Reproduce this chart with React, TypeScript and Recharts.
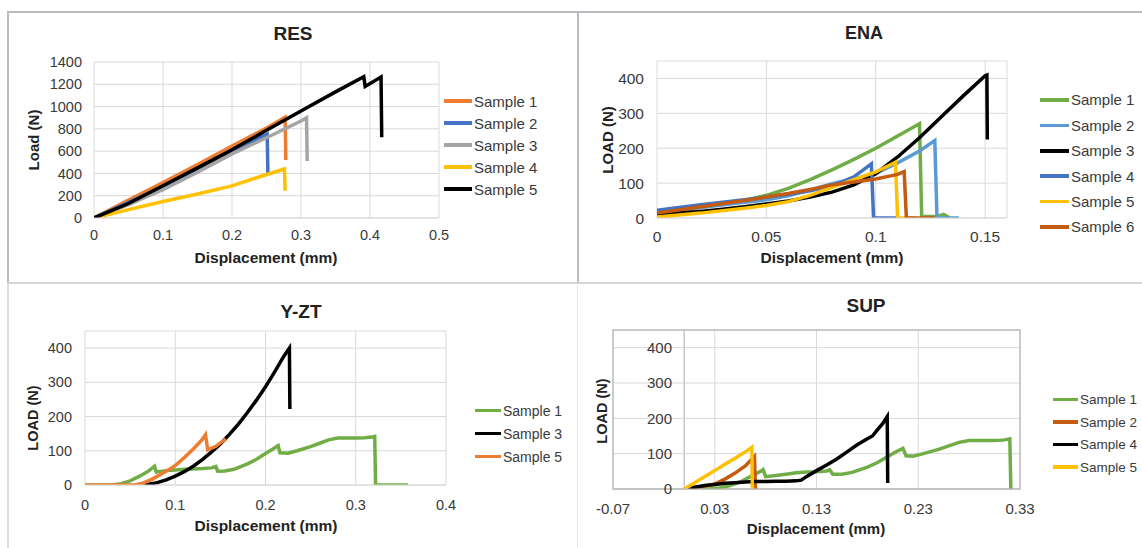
import { CartesianGrid, Legend, Line, LineChart, ReferenceArea, ReferenceLine, XAxis, YAxis } from 'recharts';

type Pt = { x: number; y: number };
type Series = { name: string; color: string; data: Pt[] };

const toPts = (rows: number[][]): Pt[] => rows.map(([x, y]) => ({ x, y }));

// ---- RES ----
const resXTicks = [0, 0.1, 0.2, 0.3, 0.4, 0.5];
const resYTicks = [0, 200, 400, 600, 800, 1000, 1200, 1400];
const resSample1 = [[0, 0], [0.05, 160], [0.1, 318], [0.15, 480], [0.2, 645], [0.25, 808], [0.277, 905], [0.278, 520]];
const resSample2 = [[0, 0], [0.05, 140], [0.1, 285], [0.15, 440], [0.2, 600], [0.251, 752], [0.252, 405]];
const resSample3 = [[0, 0], [0.05, 120], [0.1, 255], [0.15, 412], [0.2, 575], [0.25, 720], [0.3, 870], [0.308, 900], [0.309, 512]];
const resSample4 = [[0, 0], [0.05, 75], [0.1, 148], [0.15, 215], [0.2, 288], [0.24, 370], [0.276, 440], [0.277, 245]];
const resSample5 = [[0, 0], [0.05, 130], [0.1, 290], [0.15, 450], [0.2, 612], [0.25, 787], [0.3, 960], [0.35, 1132], [0.391, 1268], [0.393, 1180], [0.416, 1265], [0.417, 725]];

// ---- ENA ----
const enaXTicks = [0, 0.05, 0.1, 0.15];
const loadTicks = [0, 100, 200, 300, 400];
const enaSample1 = [[0, 12], [0.02, 30], [0.04, 50], [0.05, 65], [0.06, 85], [0.07, 110], [0.08, 138], [0.09, 168], [0.1, 200], [0.11, 235], [0.12, 270], [0.121, 4], [0.128, 4], [0.131, 10], [0.134, 0]];
const enaSample2 = [[0, 15], [0.02, 30], [0.04, 45], [0.05, 52], [0.06, 64], [0.07, 80], [0.08, 98], [0.09, 112], [0.1, 128], [0.11, 158], [0.12, 192], [0.127, 222], [0.128, 0], [0.138, 0]];
const enaSample3 = [[0, 10], [0.01, 14], [0.02, 19], [0.03, 25], [0.04, 32], [0.05, 40], [0.06, 49], [0.07, 60], [0.08, 74], [0.09, 95], [0.1, 127], [0.11, 175], [0.12, 230], [0.13, 290], [0.14, 350], [0.15, 408], [0.1508, 410], [0.151, 225]];
const enaSample4 = [[0, 22], [0.02, 38], [0.04, 52], [0.05, 60], [0.06, 68], [0.07, 78], [0.08, 92], [0.09, 118], [0.098, 155], [0.099, 0], [0.11, 0]];
const enaSample5 = [[0, 3], [0.02, 14], [0.04, 28], [0.05, 36], [0.06, 47], [0.07, 65], [0.08, 88], [0.09, 110], [0.1, 132], [0.109, 160], [0.11, 0], [0.118, 0]];
const enaSample6 = [[0, 14], [0.02, 32], [0.04, 50], [0.05, 60], [0.06, 70], [0.07, 82], [0.08, 95], [0.09, 103], [0.1, 112], [0.11, 125], [0.113, 133], [0.114, 0], [0.127, 0]];

// ---- Y-ZT ----
const yztXTicks = [0, 0.1, 0.2, 0.3, 0.4];
const yztSample1 = [[0, 0], [0.03, 0], [0.04, 4], [0.05, 12], [0.06, 25], [0.07, 40], [0.077, 55], [0.079, 38], [0.09, 42], [0.1, 44], [0.11, 46], [0.12, 47], [0.13, 48], [0.14, 50], [0.145, 54], [0.147, 40], [0.155, 41], [0.165, 46], [0.18, 62], [0.19, 75], [0.2, 92], [0.21, 108], [0.214, 115], [0.216, 94], [0.225, 93], [0.235, 100], [0.25, 112], [0.26, 122], [0.27, 132], [0.28, 137], [0.29, 137], [0.3, 137], [0.31, 138], [0.318, 140], [0.321, 142], [0.322, 0], [0.358, 0]];
const yztSample3 = [[0.057, 0], [0.07, 2], [0.08, 7], [0.09, 15], [0.1, 26], [0.11, 39], [0.12, 55], [0.13, 74], [0.14, 96], [0.15, 120], [0.16, 148], [0.17, 178], [0.18, 212], [0.19, 248], [0.2, 287], [0.21, 330], [0.22, 375], [0.2265, 400], [0.227, 222]];
const yztSample5 = [[0, 0], [0.055, 0], [0.065, 6], [0.075, 18], [0.085, 33], [0.095, 48], [0.1, 57], [0.11, 80], [0.12, 105], [0.13, 133], [0.1335, 147], [0.136, 103], [0.145, 113], [0.156, 135]];

// ---- SUP ----
const supXTicks = [-0.07, 0.03, 0.13, 0.23, 0.33];
const supSample1 = [[0, 0], [0.025, 0], [0.035, 3], [0.045, 10], [0.055, 20], [0.065, 35], [0.075, 50], [0.0775, 55], [0.08, 35], [0.09, 38], [0.1, 42], [0.11, 46], [0.12, 48], [0.13, 49], [0.14, 51], [0.143, 54], [0.146, 42], [0.155, 42], [0.165, 47], [0.18, 62], [0.19, 75], [0.2, 92], [0.21, 108], [0.215, 115], [0.218, 94], [0.225, 93], [0.235, 100], [0.25, 112], [0.26, 122], [0.27, 132], [0.28, 137], [0.29, 137], [0.3, 137], [0.31, 138], [0.315, 139], [0.32, 142], [0.321, 0]];
const supSample2 = [[0, 0], [0.01, 3], [0.02, 8], [0.03, 14], [0.04, 28], [0.05, 45], [0.06, 65], [0.069, 92], [0.07, 0]];
const supSample4 = [[0, 0], [0.01, 5], [0.02, 10], [0.03, 13], [0.04, 16], [0.05, 18], [0.06, 20], [0.07, 21], [0.08, 21], [0.09, 22], [0.1, 22], [0.11, 23], [0.115, 25], [0.12, 35], [0.13, 52], [0.14, 68], [0.15, 85], [0.16, 105], [0.17, 125], [0.18, 142], [0.185, 150], [0.19, 168], [0.195, 185], [0.1995, 205], [0.2, 17]];
const supSample5 = [[0, 0], [0.01, 17], [0.02, 35], [0.03, 52], [0.04, 70], [0.05, 87], [0.06, 105], [0.0665, 118], [0.067, 0]];

const FONT = '"Liberation Sans", Arial, Helvetica, sans-serif';
const GRID = '#D9D9D9';
const TICK = '#3A3A3A';
const X_H = 30;
const Y_W = 30;

interface PanelProps {
  box: { left: number; top: number; width: number; height: number };
  plot: { l: number; r: number; t: number; b: number };
  xDomain: [number, number];
  xTicks: number[];
  yDomain: [number, number];
  yTicks: number[];
  series: Series[];
  tickSize: number;
  yGap: number;
  xGap: number;
  legend: { left: number; first: number; row: number; font: number; len: number };
  boxed?: boolean;
}

function Panel({ box, plot, xDomain, xTicks, yDomain, yTicks, series, tickSize, yGap, xGap, legend, boxed }: PanelProps) {
  const margin = {
    top: plot.t - box.top,
    right: box.left + box.width - plot.r,
    bottom: box.top + box.height - plot.b - X_H,
    left: plot.l - box.left - Y_W,
  };
  const renderLegend = (props: any) => (
    <div>
      {(props.payload || []).map((e: any) => (
        <div key={e.value} style={{ display: 'flex', alignItems: 'center', height: legend.row }}>
          <span style={{ display: 'inline-block', width: legend.len, height: 3.5, background: e.color, marginRight: 2 }} />
          <span style={{ fontSize: legend.font, color: TICK, whiteSpace: 'nowrap' }}>{e.value}</span>
        </div>
      ))}
    </div>
  );
  return (
    <div style={{ position: 'absolute', left: box.left, top: box.top }}>
      <LineChart width={box.width} height={box.height} margin={margin}>
        <CartesianGrid stroke={GRID} strokeWidth={1} />
        <XAxis
          type="number"
          dataKey="x"
          domain={xDomain}
          ticks={xTicks}
          interval={0}
          height={X_H}
          tickLine={false}
          tickSize={0}
          tickMargin={xGap}
          axisLine={{ stroke: boxed ? '#BFBFBF' : GRID }}
          tick={{ fill: TICK, fontSize: tickSize }}
          allowDataOverflow
        />
        <YAxis
          type="number"
          domain={yDomain}
          ticks={yTicks}
          interval={0}
          width={Y_W}
          tickLine={false}
          tickSize={0}
          tickMargin={yGap}
          axisLine={false}
          tick={{ fill: TICK, fontSize: tickSize }}
          allowDataOverflow
        />
        {boxed && <ReferenceLine x={0} stroke="#C8C8C8" strokeWidth={1.5} />}
        {boxed && (
          <ReferenceArea x1={xDomain[0]} x2={xDomain[1]} y1={yDomain[0]} y2={yDomain[1]} fillOpacity={0} stroke="#BFBFBF" strokeWidth={1.5} />
        )}
        <Legend
          layout="vertical"
          align="center"
          verticalAlign="middle"
          content={renderLegend}
          wrapperStyle={{ left: legend.left - box.left, top: legend.first - legend.row / 2 - box.top, width: 110 }}
        />
        {series.map((s) => (
          <Line
            key={s.name}
            name={s.name}
            data={s.data}
            dataKey="y"
            type="linear"
            stroke={s.color}
            strokeWidth={3.5}
            dot={false}
            activeDot={false}
            isAnimationActive={false}
          />
        ))}
      </LineChart>
    </div>
  );
}

function Caption({ text, x, y, size, rotate }: { text: string; x: number; y: number; size: number; rotate?: boolean }) {
  return (
    <div
      style={{
        position: 'absolute',
        left: x,
        top: y,
        transform: `translate(-50%, -50%)${rotate ? ' rotate(-90deg)' : ''}`,
        fontSize: size,
        fontWeight: 'bold',
        lineHeight: 1,
        whiteSpace: 'nowrap',
        color: '#222222',
      }}
    >
      {text}
    </div>
  );
}

const ORANGE = '#ED7D31';
const BLUE = '#4472C4';
const LIGHT_BLUE = '#5B9BD5';
const GRAY = '#A5A5A5';
const YELLOW = '#FFC000';
const GREEN = '#70AD47';
const RUST = '#C55A11';
const BLACK = '#000000';

const resSeries: Series[] = [
  { name: 'Sample 1', color: ORANGE, data: toPts(resSample1) },
  { name: 'Sample 2', color: BLUE, data: toPts(resSample2) },
  { name: 'Sample 3', color: GRAY, data: toPts(resSample3) },
  { name: 'Sample 4', color: YELLOW, data: toPts(resSample4) },
  { name: 'Sample 5', color: BLACK, data: toPts(resSample5) },
];
const enaSeries: Series[] = [
  { name: 'Sample 1', color: GREEN, data: toPts(enaSample1) },
  { name: 'Sample 2', color: LIGHT_BLUE, data: toPts(enaSample2) },
  { name: 'Sample 3', color: BLACK, data: toPts(enaSample3) },
  { name: 'Sample 4', color: BLUE, data: toPts(enaSample4) },
  { name: 'Sample 5', color: YELLOW, data: toPts(enaSample5) },
  { name: 'Sample 6', color: RUST, data: toPts(enaSample6) },
];
const yztSeries: Series[] = [
  { name: 'Sample 1', color: GREEN, data: toPts(yztSample1) },
  { name: 'Sample 3', color: BLACK, data: toPts(yztSample3) },
  { name: 'Sample 5', color: ORANGE, data: toPts(yztSample5) },
];
const supSeries: Series[] = [
  { name: 'Sample 1', color: GREEN, data: toPts(supSample1) },
  { name: 'Sample 2', color: RUST, data: toPts(supSample2) },
  { name: 'Sample 4', color: BLACK, data: toPts(supSample4) },
  { name: 'Sample 5', color: YELLOW, data: toPts(supSample5) },
];

const line = (left: number, top: number, width: number, height: number, color: string) => (
  <div style={{ position: 'absolute', left, top, width, height, background: color }} />
);

export default function App() {
  return (
    <div style={{ position: 'absolute', left: 0, top: 0, width: 1142, height: 548, background: '#fff', fontFamily: FONT, overflow: 'hidden' }}>
      {line(7, 11, 1135, 2, '#B8BCC0')}
      {line(7, 11, 2, 272, '#B8BCC0')}
      {line(7, 283, 2, 265, '#DADDE0')}
      {line(577, 11, 2, 272, '#B8BCC0')}
      {line(577, 284, 1, 264, '#E6E8EA')}
      {line(7, 282, 1135, 2, '#D2D5D8')}

      <Panel
        box={{ left: 9, top: 13, width: 568, height: 269 }}
        plot={{ l: 94, r: 439, t: 62, b: 218 }}
        xDomain={[0, 0.5]}
        xTicks={resXTicks}
        yDomain={[0, 1400]}
        yTicks={resYTicks}
        series={resSeries}
        tickSize={14.5}
        yGap={12}
        xGap={12}
        legend={{ left: 444, first: 101, row: 22, font: 15, len: 28 }}
      />
      <Caption text="RES" x={293} y={33} size={19} />
      <Caption text="Displacement (mm)" x={266} y={258} size={15.5} />
      <Caption text="Load (N)" x={33} y={140} size={15} rotate />

      <Panel
        box={{ left: 579, top: 13, width: 563, height: 269 }}
        plot={{ l: 657, r: 1007, t: 61, b: 218 }}
        xDomain={[0, 0.16]}
        xTicks={enaXTicks}
        yDomain={[0, 450]}
        yTicks={loadTicks}
        series={enaSeries}
        tickSize={15.5}
        yGap={13}
        xGap={13}
        legend={{ left: 1040, first: 100, row: 25.4, font: 15, len: 29 }}
      />
      <Caption text="ENA" x={864} y={33} size={18} />
      <Caption text="Displacement (mm)" x={832} y={258} size={15.5} />
      <Caption text="LOAD (N)" x={607} y={140} size={15} rotate />

      <Panel
        box={{ left: 9, top: 284, width: 568, height: 264 }}
        plot={{ l: 85, r: 446, t: 331, b: 485 }}
        xDomain={[0, 0.4]}
        xTicks={yztXTicks}
        yDomain={[0, 450]}
        yTicks={loadTicks}
        series={yztSeries}
        tickSize={14.5}
        yGap={13}
        xGap={15}
        legend={{ left: 475, first: 410.7, row: 23, font: 14, len: 26 }}
      />
      <Caption text="Y-ZT" x={301} y={311} size={19} />
      <Caption text="Displacement (mm)" x={266} y={526} size={15.5} />
      <Caption text="LOAD (N)" x={33} y={418} size={14.5} rotate />

      <Panel
        box={{ left: 579, top: 284, width: 563, height: 264 }}
        plot={{ l: 613, r: 1020, t: 330, b: 489 }}
        xDomain={[-0.07, 0.33]}
        xTicks={supXTicks}
        yDomain={[0, 450]}
        yTicks={loadTicks}
        series={supSeries}
        tickSize={15}
        yGap={613 - 672}
        xGap={14}
        legend={{ left: 1053, first: 399.7, row: 22.5, font: 13.5, len: 25 }}
        boxed
      />
      <Caption text="SUP" x={866} y={305} size={19} />
      <Caption text="Displacement (mm)" x={816} y={528} size={15} />
      <Caption text="LOAD (N)" x={602} y={411} size={14.5} rotate />
    </div>
  );
}
